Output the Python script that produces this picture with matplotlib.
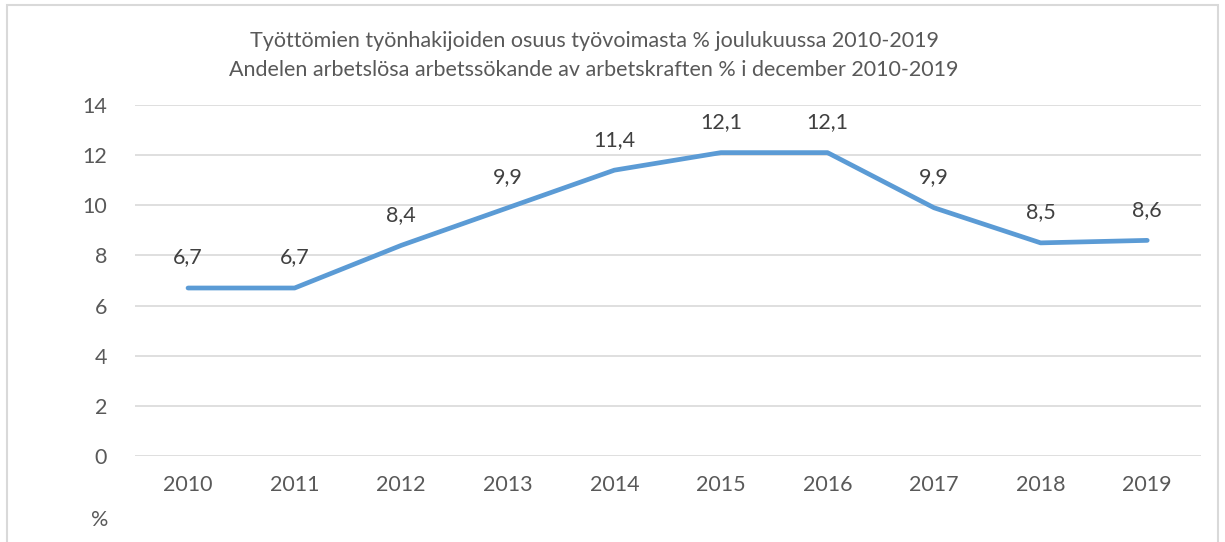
import matplotlib.pyplot as plt
from matplotlib.patches import Rectangle

years = ['2010', '2011', '2012', '2013', '2014', '2015', '2016', '2017', '2018', '2019']
share = [6.7, 6.7, 8.4, 9.9, 11.4, 12.1, 12.1, 9.9, 8.5, 8.6]
labels = ['6,7', '6,7', '8,4', '9,9', '11,4', '12,1', '12,1', '9,9', '8,5', '8,6']

plt.rcParams['font.family'] = ['Lato', 'DejaVu Sans']
text_col = '#595959'

fig = plt.figure(figsize=(12.25, 5.42), dpi=100)
ax = fig.add_axes([0.110, 0.1587, 0.870, 0.6476])

x = range(len(years))
ax.plot(x, share, color='#5B9BD5', linewidth=3.4, solid_capstyle='round', solid_joinstyle='round')
for xi, v, lab in zip(x, share, labels):
    ax.annotate(lab, (xi, v), xytext=(0, 22), textcoords='offset points',
                ha='center', va='center', fontsize=15.5, color='#404040')

ax.set_xlim(-0.5, len(years) - 0.5)
ax.set_ylim(0, 14)
ax.set_yticks(range(0, 15, 2))
ax.set_xticks(list(x))
ax.set_xticklabels(years)
ax.yaxis.grid(True, color='#D9D9D9', linewidth=1.2)
ax.set_axisbelow(True)
for s in ax.spines.values():
    s.set_visible(False)
ax.tick_params(length=0, labelsize=15.5, colors=text_col, pad=14)
ax.tick_params(axis='y', pad=20)

fig.text(0.0816, 0.04, '%', fontsize=15.5, color=text_col, ha='center', va='center')
fig.text(0.485, 0.925, 'Työttömien työnhakijoiden osuus työvoimasta % joulukuussa 2010-2019',
         fontsize=15.5, color=text_col, ha='center', va='center')
fig.text(0.485, 0.870, 'Andelen arbetslösa arbetssökande av arbetskraften % i december 2010-2019',
         fontsize=15.5, color=text_col, ha='center', va='center')

fig.patches.append(Rectangle((7 / 1225, -0.1), (1218 - 7) / 1225, 1.1 - 5 / 542,
                             transform=fig.transFigure, fill=False,
                             edgecolor='#D9D9D9', linewidth=1.5))

fig.savefig('out.png', dpi=100)
